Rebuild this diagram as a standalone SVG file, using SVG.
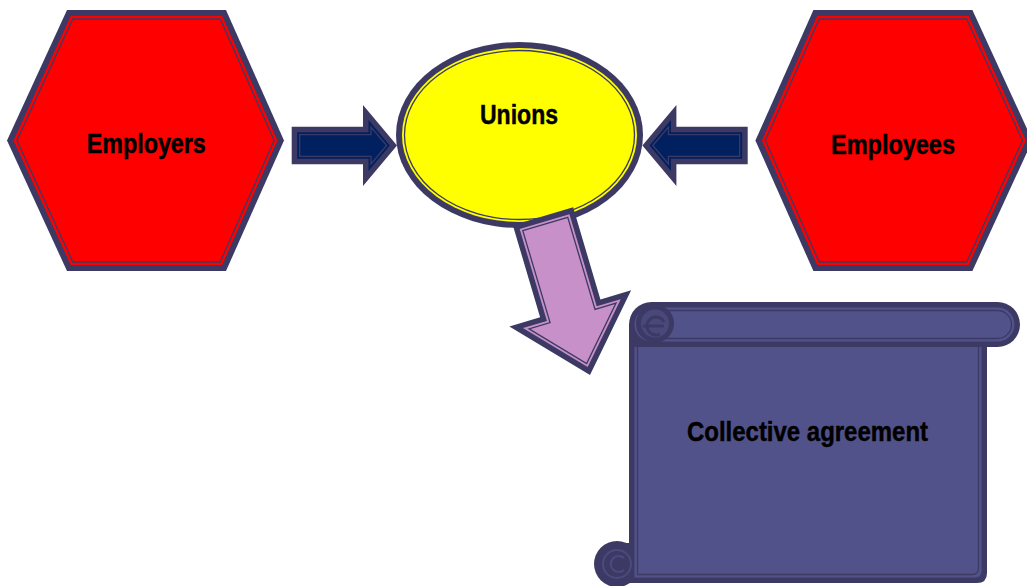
<svg xmlns="http://www.w3.org/2000/svg" xmlns:xlink="http://www.w3.org/1999/xlink" width="1027" height="586" viewBox="0 0 1027 586">
<style>
.dk{fill:#3c3a64}
.thin{fill:none;stroke:#3c3a64;stroke-width:1.3}
.red{fill:#ff0000}
.yel{fill:#ffff00}
.navy{fill:#002060}
.pur{fill:#c890c8}
.scr{fill:#52528a}
.lbl{font-family:"Liberation Sans",Arial,sans-serif;font-weight:bold;font-size:27px;fill:#000;stroke:#000;stroke-width:0.45;text-anchor:middle}
</style>
<defs>
<g id="hex">
<polygon class="dk" points="67,10 226,10 284,140.5 226,271 67,271 7,140.5"/>
<polygon class="red" points="70.8,16 222.2,16 277.4,140.5 222.2,265 70.8,265 13.6,140.5"/>
<polygon class="thin" points="72.8,19 220.2,19 274.1,140.5 220.2,262 72.8,262 16.9,140.5"/>
</g>
<g id="blockArrow">
<polygon class="dk" points="0,-18.8 71.3,-18.8 71.3,-40.5 105.3,0 71.3,40.5 71.3,18.8 0,18.8"/>
<polygon class="navy" points="5.5,-13.3 76.8,-13.3 76.8,-25.4 98.1,0 76.8,25.4 76.8,13.3 5.5,13.3"/>
<polygon class="thin" points="8,-10.8 79.3,-10.8 79.3,-18.5 94.9,0 79.3,18.5 79.3,10.8 8,10.8"/>
</g>
</defs>

<g id="employers">
<use xlink:href="#hex"/>
<text class="lbl" x="146.3" y="153.3" textLength="119" lengthAdjust="spacingAndGlyphs">Employers</text>
</g>

<g id="employees">
<use xlink:href="#hex" transform="translate(1039.4,0) scale(-1,1)"/>
<text class="lbl" x="893" y="154" textLength="124" lengthAdjust="spacingAndGlyphs">Employees</text>
</g>

<g id="connectors">
<use id="arrow-employers-unions" xlink:href="#blockArrow" transform="translate(291.7,145.5)"/>
<use id="arrow-employees-unions" xlink:href="#blockArrow" transform="translate(747.7,145.5) scale(-1,1)"/>
</g>

<g id="unions">
<ellipse class="dk" cx="519.5" cy="135" rx="123.5" ry="93"/>
<ellipse class="yel" cx="519.5" cy="135" rx="117.5" ry="87"/>
<ellipse class="thin" cx="519.5" cy="135" rx="115" ry="84.5"/>
<text class="lbl" x="519" y="124" textLength="78" lengthAdjust="spacingAndGlyphs">Unions</text>
</g>

<g id="connector-unions-agreement" transform="translate(543,216.3) rotate(-16.5)">
<polygon class="dk" points="-31.45,0 31.45,0 31.45,96 63.5,96 0,165.5 -63.5,96 -31.45,96"/>
<polygon class="pur" points="-25.95,5.5 25.95,5.5 25.95,101.5 51.03,101.5 0,157.3 -51.03,101.5 -25.95,101.5"/>
<polygon class="thin" points="-23.45,8 23.45,8 23.45,104 45.36,104 0,153.6 -45.36,104 -23.45,104"/>
</g>

<g id="agreement">
<rect class="dk" x="629" y="302" width="391" height="45" rx="22.5"/>
<path class="dk" d="M629,324 H987 V573 Q987,583 977,583 H617 V543 H629 Z"/>
<circle class="dk" cx="617" cy="564" r="23"/>
<rect class="scr" x="634.5" y="307.5" width="380" height="34" rx="17"/>
<path class="scr" d="M634.5,347 H981.5 V571 Q981.5,577.5 975,577.5 H634.5 Z"/>
<rect class="thin" x="637.5" y="310.5" width="374" height="28" rx="14"/>
<path class="thin" d="M637.5,347 V574.5 H972 Q978.5,574.5 978.5,568 V342"/>
<circle cx="655" cy="323.5" r="16.5" fill="#48487a" stroke="#3c3a64" stroke-width="5"/>
<path d="M643,326 H664 M664,322 A9,9 0 1 0 660,334" fill="none" stroke="#3c3a64" stroke-width="3"/>
<circle cx="617" cy="564" r="14" fill="none" stroke="#4a4a7e" stroke-width="2"/>
<path d="M624,558 A8,8 0 1 0 624,570" fill="none" stroke="#4a4a7e" stroke-width="2"/>
<text class="lbl" x="807.5" y="440.7" textLength="241" lengthAdjust="spacingAndGlyphs">Collective agreement</text>
</g>
</svg>
